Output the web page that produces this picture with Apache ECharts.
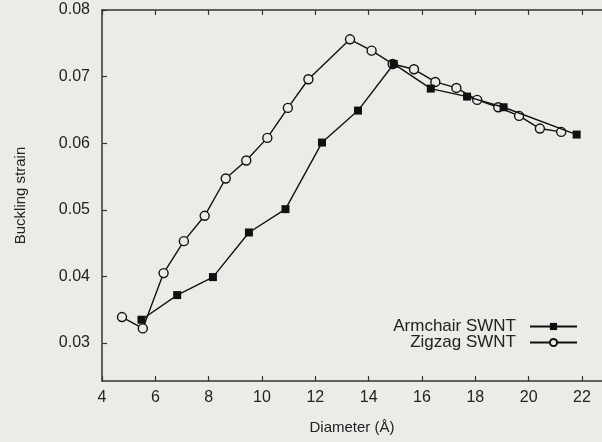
<!DOCTYPE html>
<html>
<head>
<meta charset="utf-8">
<script src="https://cdn.jsdelivr.net/npm/echarts@6/dist/echarts.min.js"></script>
<style>
html,body{margin:0;padding:0;background:#ebebe8;}
#c{width:602px;height:442px;}
</style>
</head>
<body>
<div id="c"></div>
<script>
// Data
const armchairX = [5.48, 6.82, 8.16, 9.51, 10.88, 12.25, 13.60, 14.94, 16.33, 17.69, 19.06, 21.80];
const armchairY = [0.0335, 0.0372, 0.0399, 0.0466, 0.0501, 0.0601, 0.0649, 0.0719, 0.0682, 0.0670, 0.0654, 0.0613];
const zigzagX = [4.75, 5.53, 6.31, 7.07, 7.85, 8.64, 9.41, 10.20, 10.97, 11.74, 13.30, 14.11, 14.90, 15.70, 16.50, 17.29, 18.07, 18.86, 19.64, 20.42, 21.22];
const zigzagY = [0.0339, 0.0322, 0.0405, 0.0453, 0.0491, 0.0547, 0.0574, 0.0608, 0.0653, 0.0696, 0.0756, 0.0739, 0.0719, 0.0711, 0.0692, 0.0683, 0.0665, 0.0654, 0.0641, 0.0622, 0.0617];
const xTicks = [4, 6, 8, 10, 12, 14, 16, 18, 20, 22];
const yTicks = [0.03, 0.04, 0.05, 0.06, 0.07, 0.08];
const seriesNames = ['Armchair SWNT', 'Zigzag SWNT'];

const BG = '#ebebe8';
const FONT = 'Liberation Sans, Arial, sans-serif';
const AX = '#333';

const chart = echarts.init(document.getElementById('c'), null, {renderer: 'canvas'});
const pairs = (xs, ys) => xs.map((x, i) => [x, ys[i]]);

chart.setOption({
  backgroundColor: BG,
  animation: false,
  grid: {left: 102, right: 0, top: 10, bottom: 61, containLabel: false},
  legend: [
    {data: [seriesNames[0]], right: 24, top: 318, orient: 'vertical', align: 'right', padding: 0,
     itemWidth: 47, itemHeight: 9,
     textStyle: {fontFamily: FONT, fontSize: 17, color: '#222', padding: [0, 9, 0, 0]}},
    {data: [seriesNames[1]], right: 24, top: 334, orient: 'vertical', align: 'right', padding: 0,
     itemWidth: 47, itemHeight: 9,
     textStyle: {fontFamily: FONT, fontSize: 17, color: '#222', padding: [0, 9, 0, 0]}}
  ],
  xAxis: [
    {type: 'value', min: 4, max: 22.75, position: 'bottom',
     name: 'Diameter (Å)', nameLocation: 'middle', nameGap: 39,
     nameTextStyle: {fontFamily: FONT, fontSize: 15, color: '#222'},
     axisLine: {show: true, lineStyle: {color: AX, width: 1.5}},
     axisTick: {show: true, inside: true, length: 5, customValues: xTicks, lineStyle: {color: AX, width: 1.2}},
     axisLabel: {customValues: xTicks, margin: 9, fontFamily: FONT, fontSize: 16, color: '#222'},
     splitLine: {show: false}},
    {type: 'value', min: 4, max: 22.75, position: 'top',
     axisLine: {show: true, onZero: false, lineStyle: {color: AX, width: 1.5}},
     axisTick: {show: true, inside: true, length: 5, customValues: xTicks, lineStyle: {color: AX, width: 1.2}},
     axisLabel: {show: false},
     splitLine: {show: false}}
  ],
  yAxis: [
    {type: 'value', min: 0.0243, max: 0.08,
     name: 'Buckling strain', nameLocation: 'middle', nameGap: 74, nameRotate: 90,
     nameTextStyle: {fontFamily: FONT, fontSize: 15, color: '#222'},
     axisLine: {show: true, onZero: false, lineStyle: {color: AX, width: 1.5}},
     axisTick: {show: true, inside: true, length: 5, customValues: yTicks, lineStyle: {color: AX, width: 1.2}},
     axisLabel: {customValues: yTicks, margin: 12, fontFamily: FONT, fontSize: 16, color: '#222',
                 formatter: v => v.toFixed(2)},
     splitLine: {show: false}}
  ],
  series: [
    {name: seriesNames[1], type: 'line', data: pairs(zigzagX, zigzagY), z: 2,
     symbol: 'circle', symbolSize: 9,
     lineStyle: {color: '#111', width: 1.4},
     itemStyle: {color: BG, borderColor: '#111', borderWidth: 1.4}},
    {name: seriesNames[0], type: 'line', data: pairs(armchairX, armchairY), z: 3,
     symbol: 'rect', symbolSize: 8,
     lineStyle: {color: '#111', width: 1.4},
     itemStyle: {color: '#111', borderColor: '#111', borderWidth: 0}}
  ]
});
</script>
</body>
</html>
